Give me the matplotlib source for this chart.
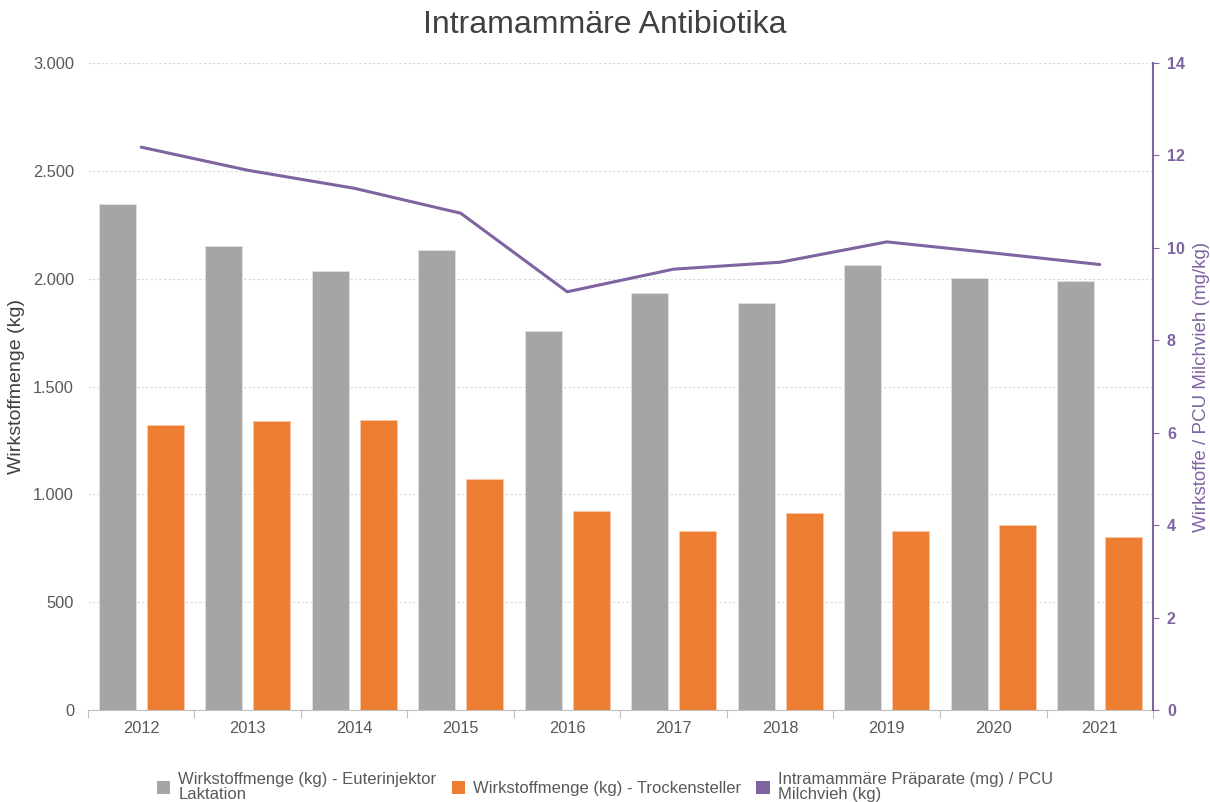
import matplotlib
matplotlib.use("Agg")
import matplotlib.pyplot as plt
import numpy as np
from matplotlib.patches import Patch
from matplotlib.ticker import FuncFormatter

plt.rcParams['font.family'] = ['Liberation Sans', 'DejaVu Sans']

years = ["2012", "2013", "2014", "2015", "2016", "2017", "2018", "2019", "2020", "2021"]
laktation = [2345, 2151, 2035, 2133, 1759, 1932, 1887, 2062, 2003, 1991]
trockensteller = [1321, 1340, 1346, 1070, 921, 832, 913, 832, 858, 801]
praeparate_pcu = [12.18, 11.68, 11.29, 10.75, 9.05, 9.54, 9.69, 10.13, 9.89, 9.64]

legend_labels = ["Wirkstoffmenge (kg) - Euterinjektor\nLaktation",
                 "Wirkstoffmenge (kg) - Trockensteller",
                 "Intramammäre Präparate (mg) / PCU\nMilchvieh (kg)"]

GRAY = "#A5A5A5"
ORANGE = "#ED7D31"
PURPLE = "#8064A2"
TXT = "#595959"

fig = plt.figure(figsize=(12.10, 8.02), dpi=100)
ax = fig.add_axes([0.0727, 0.1147, 0.8802, 0.8067])
ax2 = ax.twinx()

x = np.arange(len(years))
w = 0.35
off = 0.225
ax.bar(x - off, laktation, width=w, color=GRAY, edgecolor="#E0E0E0", linewidth=0.6, zorder=2)
ax.bar(x + off, trockensteller, width=w, color=ORANGE, edgecolor="#F8C9A8", linewidth=0.6, zorder=2)
ax2.plot(x, praeparate_pcu, color=PURPLE, linewidth=2.2, solid_capstyle='round', zorder=3)

ax.set_xlim(-0.5, len(years) - 0.5)
ax.set_ylim(0, 3000)
ax2.set_ylim(0, 14)
ax.set_yticks(np.arange(0, 3001, 500))
ax2.set_yticks(np.arange(0, 15, 2))
ax.yaxis.set_major_formatter(FuncFormatter(lambda v, p: f"{int(v):,}".replace(",", ".")))

ax.set_xticks(x)
ax.set_xticklabels(years)
ax.set_xticks(np.arange(-0.5, len(years)), minor=True)
ax.tick_params(axis='x', which='major', length=0, labelsize=11.8, labelcolor=TXT, pad=8)
ax.tick_params(axis='x', which='minor', length=6, color="#BFBFBF", width=0.8)
ax.tick_params(axis='y', length=0, labelsize=11.8, labelcolor=TXT, pad=10)
ax2.tick_params(axis='y', length=4, color=PURPLE, labelsize=11.5, labelcolor=PURPLE, pad=6)
for lbl in ax2.get_yticklabels():
    lbl.set_fontweight('bold')

ax.grid(axis='y', color="#D9D9D9", linestyle=(0, (2, 2)), linewidth=0.8, zorder=0)
ax.set_axisbelow(True)

for s in ["top", "left", "right"]:
    ax.spines[s].set_visible(False)
ax.spines["bottom"].set_color("#BFBFBF")
for s in ["top", "left", "bottom"]:
    ax2.spines[s].set_visible(False)
ax2.spines["right"].set_color(PURPLE)
ax2.spines["right"].set_linewidth(1.5)

ax.set_ylabel("Wirkstoffmenge (kg)", fontsize=14, color="#404040", labelpad=6)
ax2.set_ylabel("Wirkstoffe / PCU Milchvieh (mg/kg)", fontsize=13.5, color=PURPLE, labelpad=6)

fig.text(0.5, 0.969, "Intramammäre Antibiotika", ha='center', va='center', fontsize=23, color="#404040")

handles = [Patch(facecolor=GRAY), Patch(facecolor=ORANGE), Patch(facecolor=PURPLE)]
leg = fig.legend(handles, legend_labels, loc='upper center', bbox_to_anchor=(0.500, 0.056),
                 ncol=3, frameon=False, fontsize=12, handlelength=0.8, handleheight=0.8,
                 handletextpad=0.5, columnspacing=0.9, labelspacing=0.2)
for t in leg.get_texts():
    t.set_color(TXT)
    t.set_linespacing(1.0)

fig.savefig("out.png", dpi=100)
